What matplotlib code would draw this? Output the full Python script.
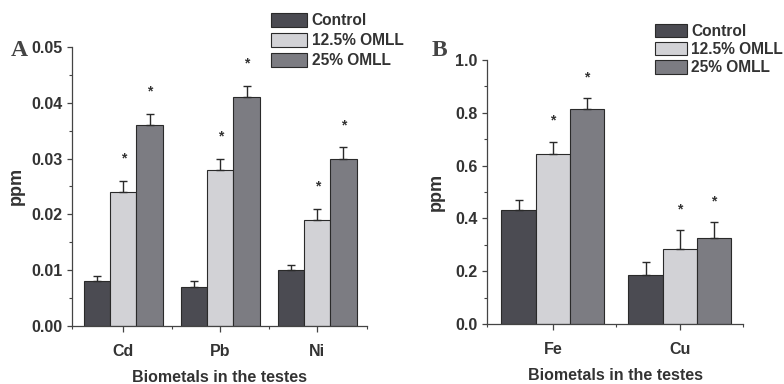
import matplotlib
matplotlib.use("Agg")
import matplotlib.pyplot as plt
import numpy as np
from matplotlib.ticker import MultipleLocator, FixedLocator

# ---- data ----
series = ["Control", "12.5% OMLL", "25% OMLL"]
colors = ["#4b4b52", "#d2d2d6", "#7c7c82"]

metals_a = ["Cd", "Pb", "Ni"]
vals_a = {
    "Control":    [0.008, 0.007, 0.010],
    "12.5% OMLL": [0.024, 0.028, 0.019],
    "25% OMLL":   [0.036, 0.041, 0.030],
}
errs_a = {
    "Control":    [0.001, 0.001, 0.001],
    "12.5% OMLL": [0.002, 0.002, 0.002],
    "25% OMLL":   [0.002, 0.002, 0.002],
}
sig_a = {
    "Control":    [False, False, False],
    "12.5% OMLL": [True, True, True],
    "25% OMLL":   [True, True, True],
}

metals_b = ["Fe", "Cu"]
vals_b = {
    "Control":    [0.43, 0.185],
    "12.5% OMLL": [0.645, 0.285],
    "25% OMLL":   [0.815, 0.325],
}
errs_b = {
    "Control":    [0.04, 0.05],
    "12.5% OMLL": [0.045, 0.07],
    "25% OMLL":   [0.04, 0.06],
}
sig_b = {
    "Control":    [False, False],
    "12.5% OMLL": [True, True],
    "25% OMLL":   [True, True],
}

plt.rcParams['font.family'] = ['Liberation Sans', 'DejaVu Sans']
plt.rcParams['font.weight'] = 'bold'
txtc = "#333333"

fig = plt.figure(figsize=(7.84, 3.84), dpi=100)
axA = fig.add_axes([0.0918, 0.151, 0.376, 0.727])
axB = fig.add_axes([0.621, 0.156, 0.327, 0.688])


def draw(ax, metals, vals, errs, sig, ymax, major, minor, fmt, xlim, star_off):
    x = np.arange(len(metals))
    w = 0.27
    handles = []
    for i, s in enumerate(series):
        pos = x + (i - 1) * w
        b = ax.bar(pos, vals[s], width=w, color=colors[i], edgecolor="#2a2a2a",
                   linewidth=0.8, zorder=2)
        handles.append(b)
        ax.errorbar(pos, vals[s], yerr=[np.zeros(len(metals)), errs[s]], fmt='none',
                    ecolor="#2a2a2a", elinewidth=1.0, capsize=3, capthick=1.0, zorder=3)
        for p, v, e, f in zip(pos, vals[s], errs[s], sig[s]):
            if f:
                ax.text(p, v + e + star_off, "*", ha='center', va='center',
                        fontsize=10, color=txtc)
    ax.set_ylim(0, ymax)
    ax.set_xlim(*xlim)
    ax.yaxis.set_major_locator(MultipleLocator(major))
    ax.yaxis.set_minor_locator(MultipleLocator(minor))
    ax.yaxis.set_major_formatter(plt.FormatStrFormatter(fmt))
    ax.set_xticks(x)
    ax.set_xticklabels(metals)
    mids = list(np.arange(len(metals) - 1) + 0.5) + [xlim[0], xlim[1]]
    ax.xaxis.set_minor_locator(FixedLocator(mids))
    for sp in ["top", "right"]:
        ax.spines[sp].set_visible(False)
    for sp in ["left", "bottom"]:
        ax.spines[sp].set_color("#444444")
        ax.spines[sp].set_linewidth(0.9)
    ax.tick_params(axis='y', which='major', length=3.5, width=0.9, pad=3,
                   labelsize=11.5, colors="#444444", labelcolor=txtc)
    ax.tick_params(axis='y', which='minor', length=2.5, width=0.8, colors="#444444")
    ax.tick_params(axis='x', which='major', length=4, width=0.9, pad=9,
                   labelsize=11.5, colors="#444444", labelcolor=txtc)
    ax.tick_params(axis='x', which='minor', length=2.5, width=0.8, colors="#444444")
    ax.set_xlabel("Biometals in the testes", fontsize=11.5, color=txtc, labelpad=8,
                  fontweight='bold')
    ax.set_ylabel("ppm", fontsize=13, color=txtc, fontweight='bold')
    return handles


hA = draw(axA, metals_a, vals_a, errs_a, sig_a, 0.05, 0.01, 0.005, "%.2f",
          (-0.53, 2.51), 0.004)
hB = draw(axB, metals_b, vals_b, errs_b, sig_b, 1.0, 0.2, 0.1, "%.1f",
          (-0.52, 1.50), 0.08)
axA.yaxis.labelpad = 5
axB.yaxis.labelpad = 8

fig.legend(hA, series, loc='upper left', bbox_to_anchor=(0.346, 0.966),
           frameon=False, fontsize=11.2, handlelength=2.3, handleheight=1.0,
           labelspacing=0.3, handletextpad=0.3, borderpad=0, borderaxespad=0,
           labelcolor=txtc)
fig.legend(hB, series, loc='upper left', bbox_to_anchor=(0.836, 0.938),
           frameon=False, fontsize=11.2, handlelength=2.0, handleheight=0.95,
           labelspacing=0.2, handletextpad=0.3, borderpad=0, borderaxespad=0,
           labelcolor=txtc)

fig.text(0.024, 0.868, "A", fontsize=17, family=['Liberation Serif', 'DejaVu Serif'],
         fontweight='bold', color="#444444", ha='center', va='center')
fig.text(0.561, 0.868, "B", fontsize=17, family=['Liberation Serif', 'DejaVu Serif'],
         fontweight='bold', color="#444444", ha='center', va='center')

fig.savefig("out.png", dpi=100, facecolor="white")
